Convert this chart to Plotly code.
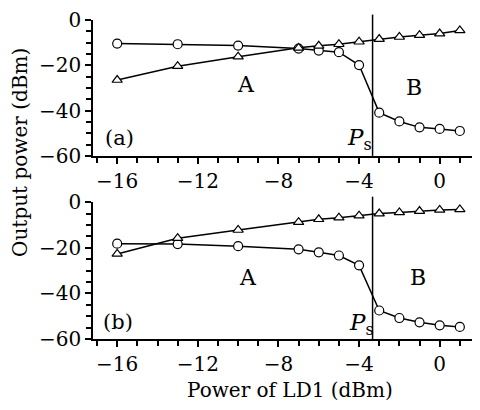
import plotly.graph_objects as go

x_vals = [-16, -13, -10, -7, -6, -5, -4, -3, -2, -1, 0, 1]
a_circle = [-10.4, -10.7, -11.3, -12.6, -13.5, -14.2, -19.9, -40.9, -44.8, -47.4, -48.1, -49.0]
a_triangle = [-26.5, -20.4, -16.2, -12.3, -11.4, -10.7, -9.6, -8.4, -7.5, -6.7, -6.0, -4.6]
b_circle = [-18.2, -18.4, -19.3, -20.7, -22.0, -23.4, -27.7, -47.5, -50.8, -52.7, -54.0, -54.7]
b_triangle = [-22.7, -15.8, -12.2, -8.8, -7.5, -6.8, -5.9, -5.0, -4.5, -3.9, -3.4, -3.2]
ps_x = -3.33

FONT = "DejaVu Serif"
TICK_SIZE = 20
fig = go.Figure()

def add(xs, ys, sym, xa, ya):
    fig.add_trace(go.Scatter(x=xs, y=ys, mode="lines+markers", xaxis=xa, yaxis=ya,
                             line=dict(color="black", width=1.5),
                             marker=dict(symbol=sym, size=9, color="white",
                                         line=dict(color="black", width=1.2)),
                             showlegend=False))

add(x_vals, a_circle, "circle", "x", "y")
add(x_vals, a_triangle, "triangle-up", "x", "y")
add(x_vals, b_circle, "circle", "x2", "y2")
add(x_vals, b_triangle, "triangle-up", "x2", "y2")

xax = dict(range=[-17.2, 2], tickmode="linear", tick0=0, dtick=4,
           showline=True, linecolor="black", linewidth=1.5, ticks="outside", ticklen=6,
           tickwidth=1.5, tickcolor="black", showgrid=False, zeroline=False,
           minor=dict(dtick=1, tick0=0, ticks="outside", ticklen=5, tickcolor="black", tickwidth=1.5, showgrid=False),
           tickfont=dict(family=FONT, size=TICK_SIZE, color="black"))
yax = dict(range=[-60, 0], tickmode="linear", tick0=0, dtick=20,
           showline=True, linecolor="black", linewidth=1.5, ticks="outside", ticklen=6,
           tickwidth=1.5, tickcolor="black", showgrid=False, zeroline=False,
           minor=dict(dtick=5, tick0=0, ticks="outside", ticklen=5, tickcolor="black", tickwidth=1.5, showgrid=False),
           tickfont=dict(family=FONT, size=TICK_SIZE, color="black"))

# page body has an 8px margin: figure is 472x402 placed at (8, 8)
fig.update_layout(
    width=472, height=402, plot_bgcolor="white", paper_bgcolor="white",
    margin=dict(l=85, r=0, t=7, b=71),
    xaxis=dict(xax, domain=[0, 1], anchor="y"),
    yaxis=dict(yax, domain=[0.574, 1], anchor="x"),
    xaxis2=dict(xax, domain=[0, 1], anchor="y2"),
    yaxis2=dict(yax, domain=[0, 0.429], anchor="x2"),
)

for xr, yr in [("x", "y"), ("x2", "y2")]:
    fig.add_shape(type="line", xref=xr, yref=yr + " domain", x0=ps_x, x1=ps_x, y0=0, y1=1.04,
                  line=dict(color="black", width=1.5))

def txt(x, y, s, xr, yr, size=22, xanchor="center"):
    fig.add_annotation(x=x, y=y, xref=xr, yref=yr, text=s, showarrow=False, xanchor=xanchor,
                       font=dict(family=FONT, size=size, color="black"))

txt(-9.6, -28.3, "A", "x", "y")
txt(-1.25, -29.6, "B", "x", "y")
txt(-16.7, -52, "(a)", "x", "y", 21, "left")
txt(-3.97, -52.5, "<i>P</i><sub>s</sub>", "x", "y", 23)
txt(-9.5, -33, "A", "x2", "y2")
txt(-1.1, -33, "B", "x2", "y2")
txt(-16.8, -52.4, "(b)", "x2", "y2", 21, "left")
txt(-3.9, -53.5, "<i>P</i><sub>s</sub>", "x2", "y2", 23)

fig.add_annotation(x=(290 - 93) / 387, y=-52 / 324, xref="paper", yref="paper", text="Power of LD1 (dBm)",
                   showarrow=False, font=dict(family=FONT, size=20, color="black"), xanchor="center", yanchor="middle")
fig.add_annotation(x=(20 - 93) / 387, y=(339 - 150) / 324, xref="paper", yref="paper", text="Output power (dBm)",
                   textangle=-90, showarrow=False, font=dict(family=FONT, size=20, color="black"),
                   xanchor="center", yanchor="middle")

fig.write_html("out.html")
